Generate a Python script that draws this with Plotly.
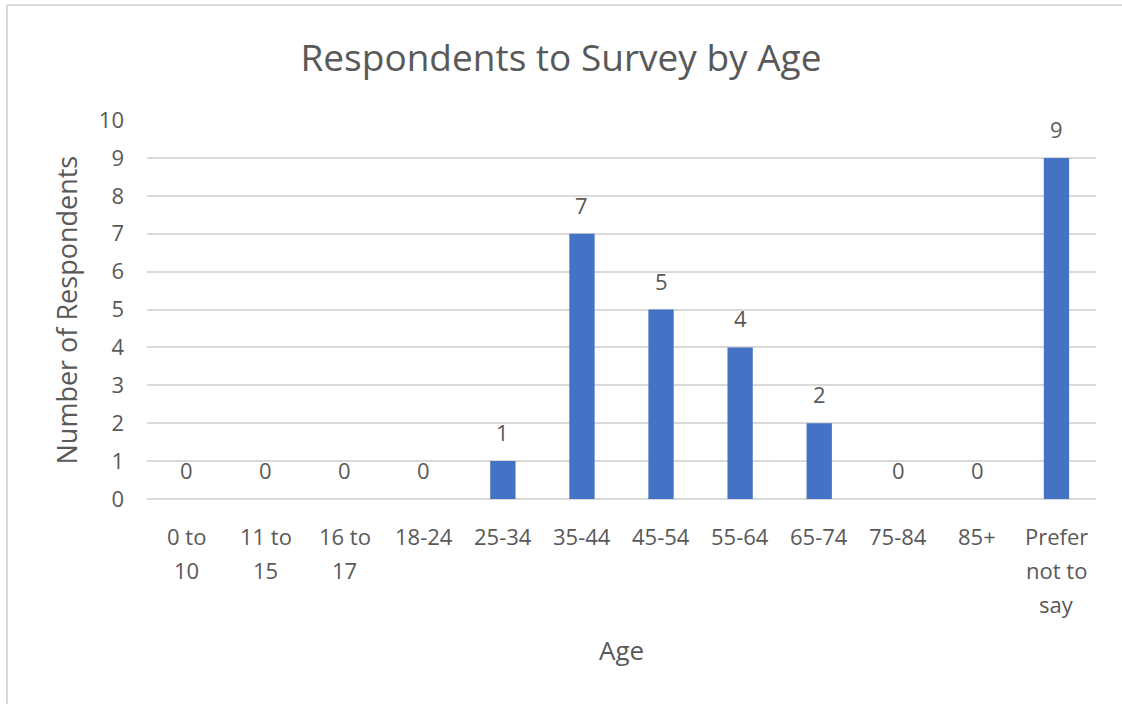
import plotly.graph_objects as go

# Survey counts per age band
age_bands = ["0 to 10", "11 to 15", "16 to 17", "18-24", "25-34", "35-44",
             "45-54", "55-64", "65-74", "75-84", "85+", "Prefer not to say"]
band_labels = [["0 to", "10"], ["11 to", "15"], ["16 to", "17"], ["18-24"],
               ["25-34"], ["35-44"], ["45-54"], ["55-64"], ["65-74"],
               ["75-84"], ["85+"], ["Prefer", "not to", "say"]]
respondents = [0, 0, 0, 0, 1, 7, 5, 4, 2, 0, 0, 9]
y_ticks = list(range(0, 11))

FONT = "'Open Sans', Calibri, Carlito, sans-serif"
TEXT_COLOR = "#595959"
GRID = "#d9d9d9"
LABEL_SIZE = 22

fig = go.Figure()
fig.add_trace(go.Bar(
    x=age_bands,
    y=respondents,
    marker=dict(color="#4472C4", line=dict(width=0)),
    width=0.32,
    hoverinfo="x+y",
))

# value labels above each bar
for cat, val in zip(age_bands, respondents):
    fig.add_annotation(x=cat, y=val, xref="x", yref="y", text=str(val),
                       showarrow=False, yshift=29, yanchor="middle",
                       font=dict(family=FONT, size=LABEL_SIZE, color=TEXT_COLOR))

# category labels, wrapped over several lines
for cat, lines in zip(age_bands, band_labels):
    for i, line in enumerate(lines):
        fig.add_annotation(x=cat, y=0, xref="x", yref="y", text=line,
                           showarrow=False, yshift=-(37 + 34 * i),
                           yanchor="middle",
                           font=dict(family=FONT, size=LABEL_SIZE, color=TEXT_COLOR))

# chart area frame: left and top edges
FRAME_LEFT = -0.1475
FRAME_TOP = 1.3034
fig.add_shape(type="line", xref="paper", yref="paper",
              x0=FRAME_LEFT, x1=FRAME_LEFT, y0=-0.9, y1=FRAME_TOP,
              line=dict(color=GRID, width=2), layer="below")
fig.add_shape(type="line", xref="paper", yref="paper",
              x0=FRAME_LEFT, x1=1.3, y0=FRAME_TOP, y1=FRAME_TOP,
              line=dict(color=GRID, width=2), layer="below")

fig.update_layout(
    width=1122, height=704,
    margin=dict(l=147, r=26, t=120, b=205),
    paper_bgcolor="white", plot_bgcolor="white",
    showlegend=False,
    title=dict(text="Respondents to Survey by Age", x=0.5, xanchor="center",
               y=1 - 58 / 704, yanchor="middle",
               font=dict(family=FONT, size=37, color=TEXT_COLOR)),
    font=dict(family=FONT, color=TEXT_COLOR),
    xaxis=dict(showticklabels=False, showgrid=False, zeroline=False,
               showline=False, ticks=""),
    yaxis=dict(range=[0, 10], tickvals=y_ticks, showgrid=True,
               gridcolor=GRID, gridwidth=2, zeroline=True,
               zerolinecolor=GRID, zerolinewidth=2, showline=False,
               ticks="", ticklabelstandoff=22,
               tickfont=dict(family=FONT, size=LABEL_SIZE, color=TEXT_COLOR)),
)

# axis titles
fig.add_annotation(text="Number of Respondents", xref="paper", yref="paper",
                   x=-0.0843, y=0.5, xanchor="center", yanchor="middle",
                   textangle=-90, showarrow=False,
                   font=dict(family=FONT, size=27, color=TEXT_COLOR))
fig.add_annotation(text="Age", xref="paper", yref="paper",
                   x=0.5, y=-(650 - 499) / 379, xanchor="center",
                   yanchor="middle", showarrow=False,
                   font=dict(family=FONT, size=26, color=TEXT_COLOR))

fig.write_html("out.html")
